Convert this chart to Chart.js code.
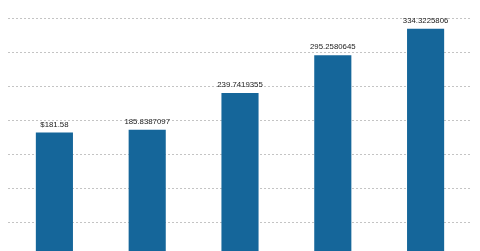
<!DOCTYPE html>
<html>
<head>
<meta charset="utf-8">
<script src="https://cdn.jsdelivr.net/npm/chart.js@4"></script>
<style>
  html, body { margin: 0; padding: 0; background: #fff; overflow: hidden; }
  #wrap { position: relative; width: 480px; height: 262px; }
</style>
</head>
<body>
<div id="wrap"><canvas id="barchart"></canvas></div>
<script>
const categories = ['A', 'B', 'C', 'D', 'E'];
const values = [181.58, 185.8387097, 239.7419355, 295.2580645, 334.3225806];
const valueLabels = ['$181.58', '185.8387097', '239.7419355', '295.2580645', '334.3225806'];

// draws the number above each bar
const barLabels = {
  id: 'barLabels',
  afterDatasetsDraw(chart) {
    const c = chart.ctx;
    const meta = chart.getDatasetMeta(0);
    c.save();
    c.font = '7.8px "Liberation Sans", Arial, sans-serif';
    c.fillStyle = '#222';
    c.textAlign = 'center';
    c.textBaseline = 'bottom';
    meta.data.forEach((bar, i) => {
      c.fillText(valueLabels[i], bar.x, bar.y - 4);
    });
    c.restore();
  }
};

const ctx = document.getElementById('barchart').getContext('2d');
const barchart = new Chart(ctx, {
  type: 'bar',
  data: {
    labels: categories,
    datasets: [{
      data: values,
      backgroundColor: '#15669a',
      borderWidth: 0,
      barPercentage: 0.4,
      categoryPercentage: 1
    }]
  },
  options: {
    responsive: true,
    maintainAspectRatio: false,
    animation: false,
    layout: { padding: { left: 8, right: 8, top: 18, bottom: 6 } },
    plugins: {
      legend: { display: false },
      tooltip: { enabled: false }
    },
    scales: {
      x: { display: false },
      y: {
        min: 0,
        max: 350,
        ticks: { display: false, stepSize: 50 },
        border: { display: false, dash: [2, 2] },
        grid: {
          color: '#c4c4c4',
          lineWidth: 1,
          drawTicks: false
        },
        afterFit(axis) { axis.width = 0; }
      }
    }
  },
  plugins: [barLabels]
});
</script>
</body>
</html>
